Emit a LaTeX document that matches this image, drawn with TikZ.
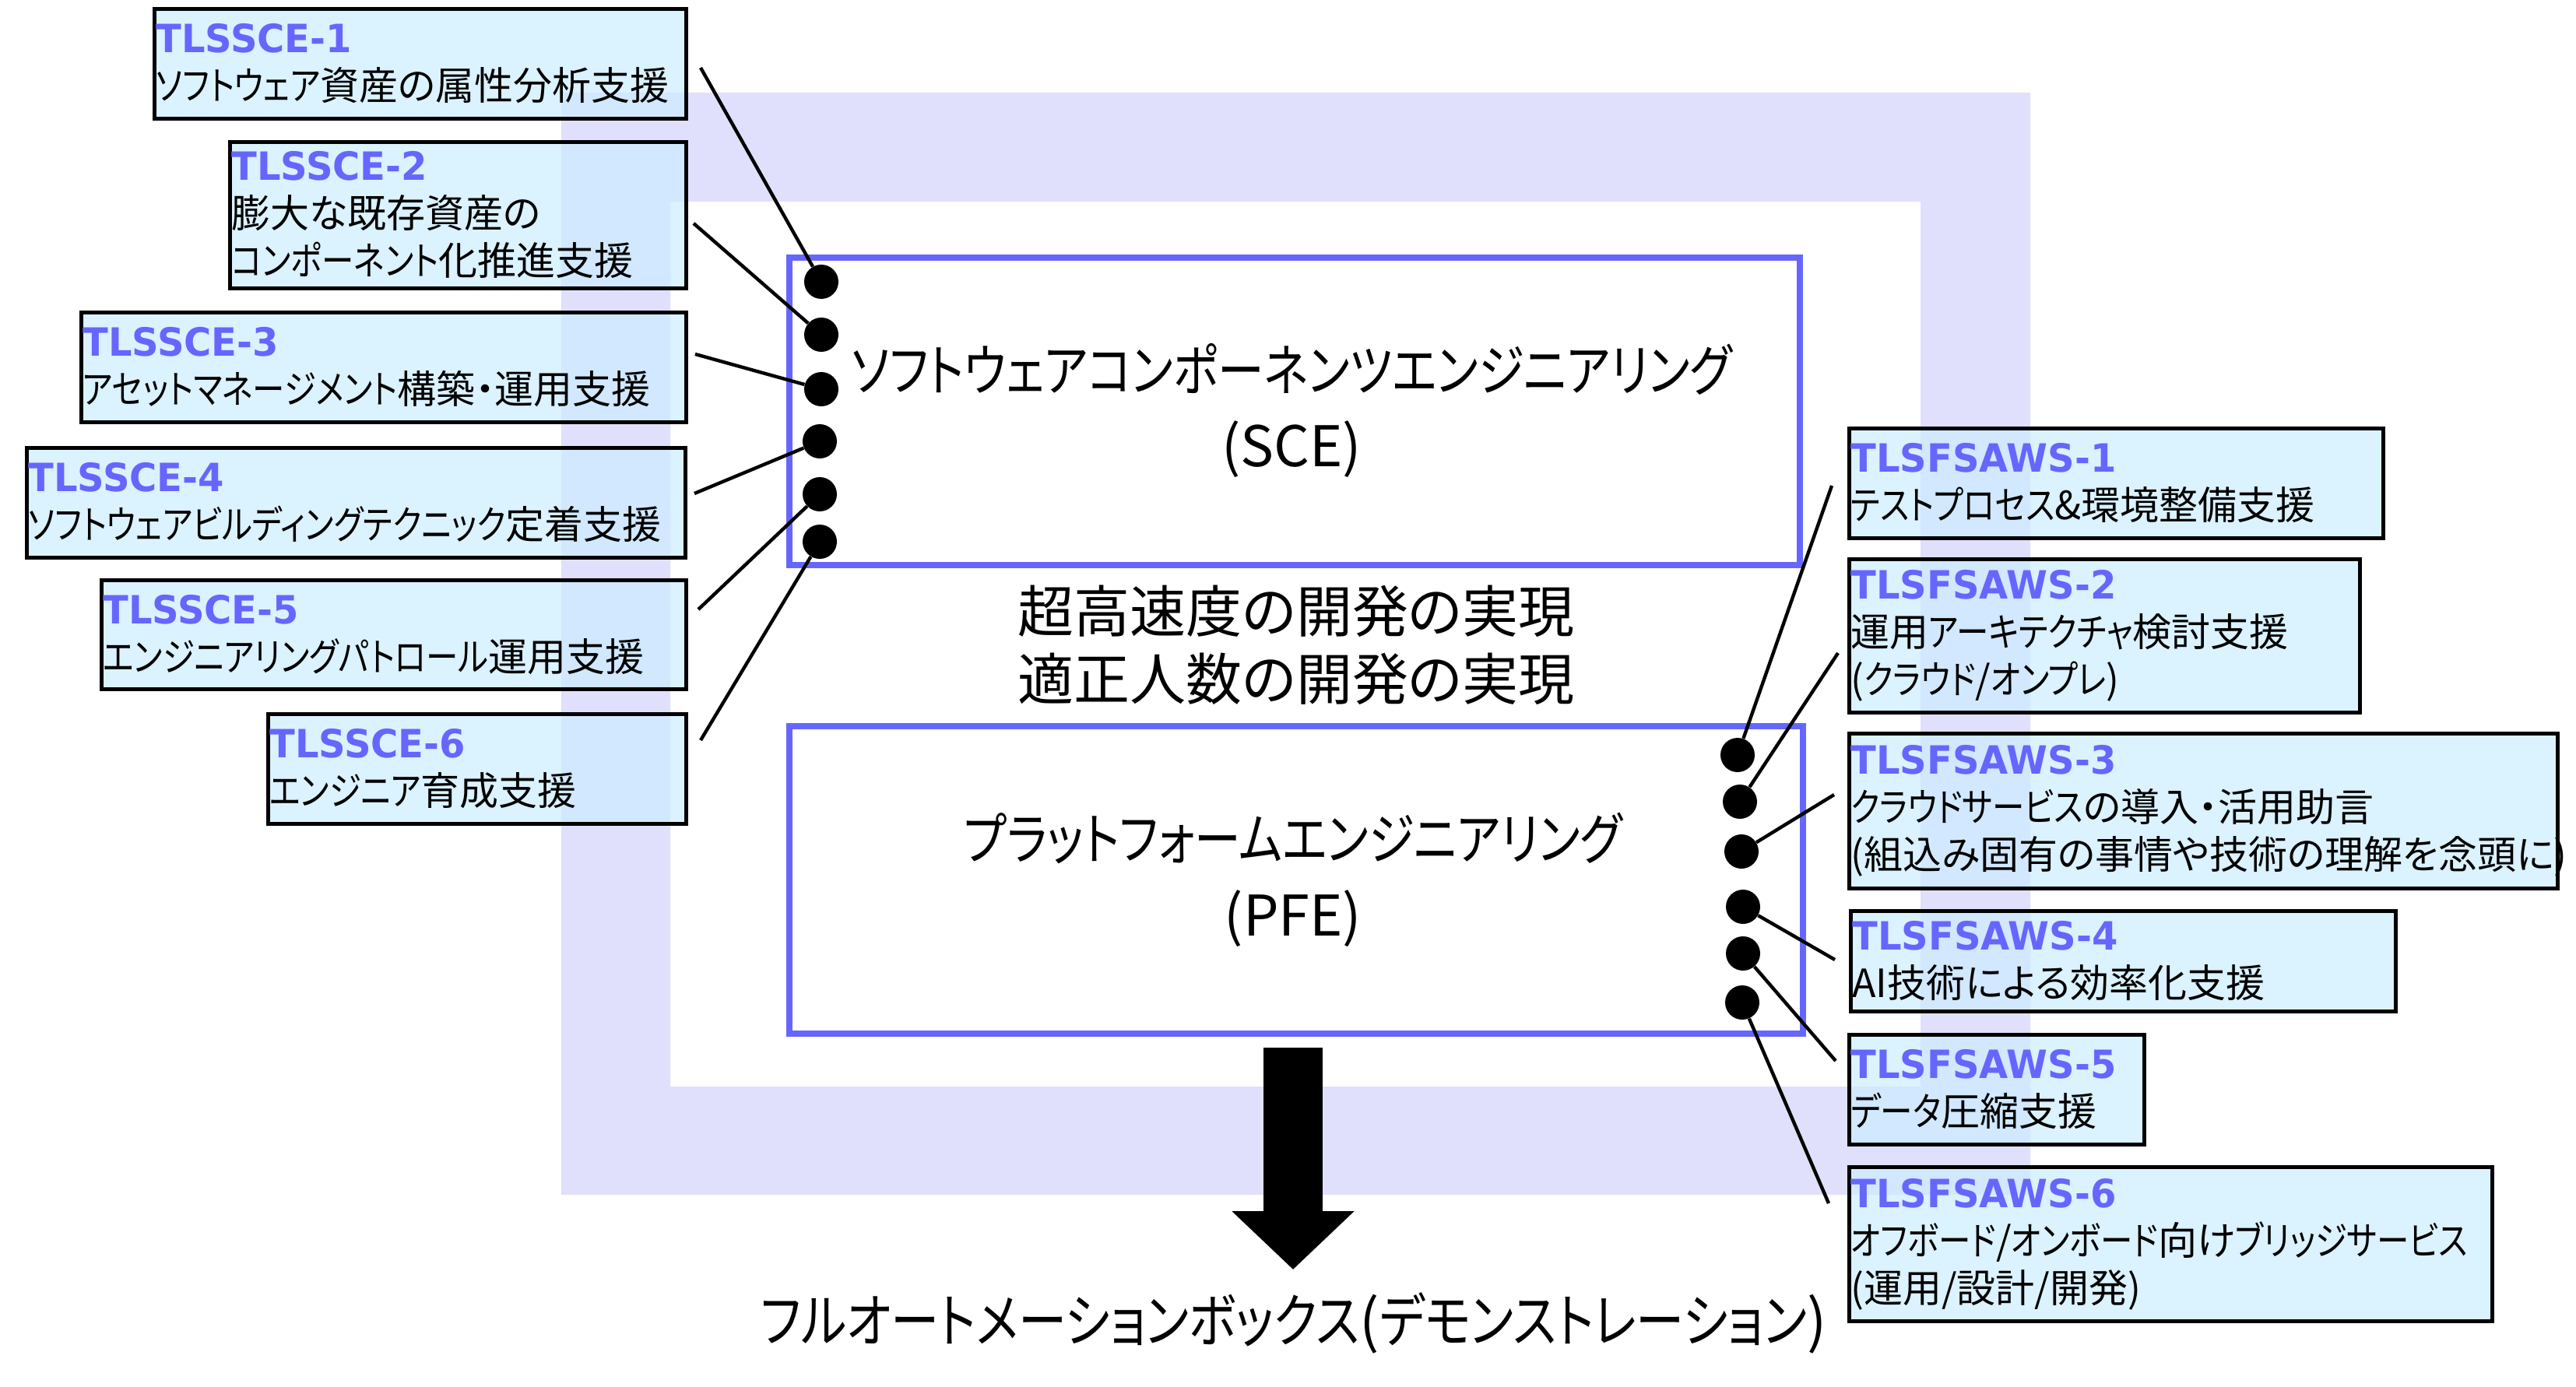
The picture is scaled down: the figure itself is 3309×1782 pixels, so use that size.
\documentclass[tikz,border=0pt]{standalone}
\usepackage{fontspec}
\usetikzlibrary{arrows.meta}
\newfontfamily\jp[RawFeature=+palt]{Noto Sans CJK JP}
\newfontfamily\kana[FakeStretch=0.83,RawFeature=+palt]{Noto Sans CJK JP}
\newfontfamily\lbl[FakeStretch=0.96]{DejaVu Sans}
\newcommand{\K}[1]{{\kana #1}}
\definecolor{lav}{RGB}{224,224,252}
\definecolor{bblue}{RGB}{102,102,255}
\definecolor{boxfill}{RGB}{204,236,255}
\tikzset{
  lbox/.style={draw=black, line width=2.5pt, fill=boxfill, fill opacity=0.7, text opacity=1, anchor=north west, inner sep=0pt},
  ltext/.style={anchor=west, inner sep=0pt, align=left, font=\jp\fontsize{25pt}{30.5pt}\selectfont},
  bigtext/.style={align=center, inner sep=0pt, font=\jp\fontsize{36pt}{48pt}\selectfont},
  mainbox/.style={draw=bblue, line width=4pt, fill=white, anchor=north west, inner sep=0pt},
  dot/.style={circle, fill=black, minimum size=22pt, inner sep=0pt},
  conn/.style={line width=2.2pt, black},
  bigarrow/.style={line width=38pt, -{Triangle[length=37.5pt,width=76.5pt]}},
}
\newcommand{\tl}[1]{\textcolor{bblue}{\lbl\bfseries #1}}
\begin{document}
\begin{tikzpicture}[x=0.5pt,y=-0.5pt]
\useasboundingbox (0,0) rectangle (3309,1782);
% frame
\fill[lav,even odd rule] (721,119) rectangle (2608,1535) (861,259) rectangle (2467,1396);
% main boxes
\node[mainbox, minimum width=649pt, minimum height=197.5pt] (sce) at (1010,327) {};
\node[mainbox, minimum width=651pt, minimum height=197.5pt] (pfe) at (1010,929) {};
\node[bigtext, font=\jp\fontsize{36pt}{48.5pt}\selectfont] (scetext) at (1659,527) {\K{ソフトウェアコンポーネンツエンジニアリング}\\(SCE)};
\node[bigtext, font=\jp\fontsize{36pt}{43.5pt}\selectfont] (goal) at (1665,829) {超高速度の開発の実現\\適正人数の開発の実現};
\node[bigtext, font=\jp\fontsize{36pt}{49pt}\selectfont] (pfetext) at (1661,1130) {\K{プラットフォームエンジニアリング}\\(PFE)};
\node[bigtext, font=\jp\fontsize{37.5pt}{48pt}\selectfont] (fab) at (1662,1700) {\K{フルオートメーションボックス}(\K{デモンストレーション})};
% arrow
\coordinate (atop) at (1661,1346);
\coordinate (atip) at (1661,1631);
\draw[bigarrow] (atop) -- (atip);
% left label boxes
\node[lbox, minimum width=341.5pt, minimum height=70.5pt] (b1) at (196,9) {};
\node[lbox, minimum width=293pt, minimum height=94pt] (b2) at (293,180) {};
\node[lbox, minimum width=388.5pt, minimum height=70.5pt] (b3) at (102,399) {};
\node[lbox, minimum width=423pt, minimum height=70.5pt] (b4) at (32,573) {};
\node[lbox, minimum width=375.5pt, minimum height=70pt] (b5) at (128,743) {};
\node[lbox, minimum width=268.5pt, minimum height=70.5pt] (b6) at (342,915) {};
\node[ltext] (t1) at ([xshift=2pt]b1.west) {\tl{TLSSCE-1}\\\K{ソフトウェア}資産の属性分析支援};
\node[ltext] (t2) at ([xshift=2pt]b2.west) {\tl{TLSSCE-2}\\膨大な既存資産の\\\K{コンポーネント}化推進支援};
\node[ltext] (t3) at ([xshift=2pt]b3.west) {\tl{TLSSCE-3}\\\K{アセットマネージメント}構築・運用支援};
\node[ltext] (t4) at ([xshift=2pt]b4.west) {\tl{TLSSCE-4}\\\K{ソフトウェアビルディングテクニック}定着支援};
\node[ltext] (t5) at ([xshift=2pt]b5.west) {\tl{TLSSCE-5}\\\K{エンジニアリングパトロール}運用支援};
\node[ltext] (t6) at ([xshift=2pt]b6.west) {\tl{TLSSCE-6}\\\K{エンジニア}育成支援};
% right label boxes
\node[lbox, minimum width=343pt, minimum height=70.5pt] (r1) at (2373,548) {};
\node[lbox, minimum width=328pt, minimum height=98.5pt] (r2) at (2373,716) {};
\node[lbox, minimum width=455pt, minimum height=99.5pt] (r3) at (2373,940) {};
\node[lbox, minimum width=350pt, minimum height=64.5pt] (r4) at (2375,1168) {};
\node[lbox, minimum width=189.5pt, minimum height=70.5pt] (r5) at (2373,1327) {};
\node[lbox, minimum width=413pt, minimum height=99pt] (r6) at (2373,1497) {};
\node[ltext] (u1) at ([xshift=2pt]r1.west) {\tl{TLSFSAWS-1}\\\K{テストプロセス}\&環境整備支援};
\node[ltext] (u2) at ([xshift=2pt]r2.west) {\tl{TLSFSAWS-2}\\運用\K{アーキテクチャ}検討支援\\(\K{クラウド}/\K{オンプレ})};
\node[ltext] (u3) at ([xshift=2pt]r3.west) {\tl{TLSFSAWS-3}\\\K{クラウドサービス}の導入・活用助言\\(組込み固有の事情や技術の理解を念頭に)};
\node[ltext] (u4) at ([xshift=2pt]r4.west) {\tl{TLSFSAWS-4}\\AI技術による効率化支援};
\node[ltext] (u5) at ([xshift=2pt]r5.west) {\tl{TLSFSAWS-5}\\\K{データ}圧縮支援};
\node[ltext] (u6) at ([xshift=2pt]r6.west) {\tl{TLSFSAWS-6}\\\K{オフボード}/\K{オンボード}向け\K{ブリッジサービス}\\(運用/設計/開発)};
% dots
\node[dot] (s1) at (1055,362) {};
\node[dot] (s2) at (1055,430) {};
\node[dot] (s3) at (1055,500) {};
\node[dot] (s4) at (1053,567) {};
\node[dot] (s5) at (1053,635) {};
\node[dot] (s6) at (1053,696) {};
\node[dot] (p1) at (2232,970) {};
\node[dot] (p2) at (2235,1030) {};
\node[dot] (p3) at (2237,1094) {};
\node[dot] (p4) at (2239,1165) {};
\node[dot] (p5) at (2239,1225) {};
\node[dot] (p6) at (2238,1288) {};
% free ends
\coordinate (c1) at (900,87);
\coordinate (c2) at (891,287);
\coordinate (c3) at (893,455);
\coordinate (c4) at (892,634);
\coordinate (c5) at (897,783);
\coordinate (c6) at (900,951);
\coordinate (e1) at (2353,624);
\coordinate (e2) at (2361,839);
\coordinate (e3) at (2356,1021);
\coordinate (e4) at (2357,1233);
\coordinate (e5) at (2358,1363);
\coordinate (e6) at (2349,1546);
\draw[conn] (c1) -- (s1);
\draw[conn] (c2) -- (s2);
\draw[conn] (c3) -- (s3);
\draw[conn] (c4) -- (s4);
\draw[conn] (c5) -- (s5);
\draw[conn] (c6) -- (s6);
\draw[conn] (p1) -- (e1);
\draw[conn] (p2) -- (e2);
\draw[conn] (p3) -- (e3);
\draw[conn] (p4) -- (e4);
\draw[conn] (p5) -- (e5);
\draw[conn] (p6) -- (e6);
\end{tikzpicture}
\end{document}
